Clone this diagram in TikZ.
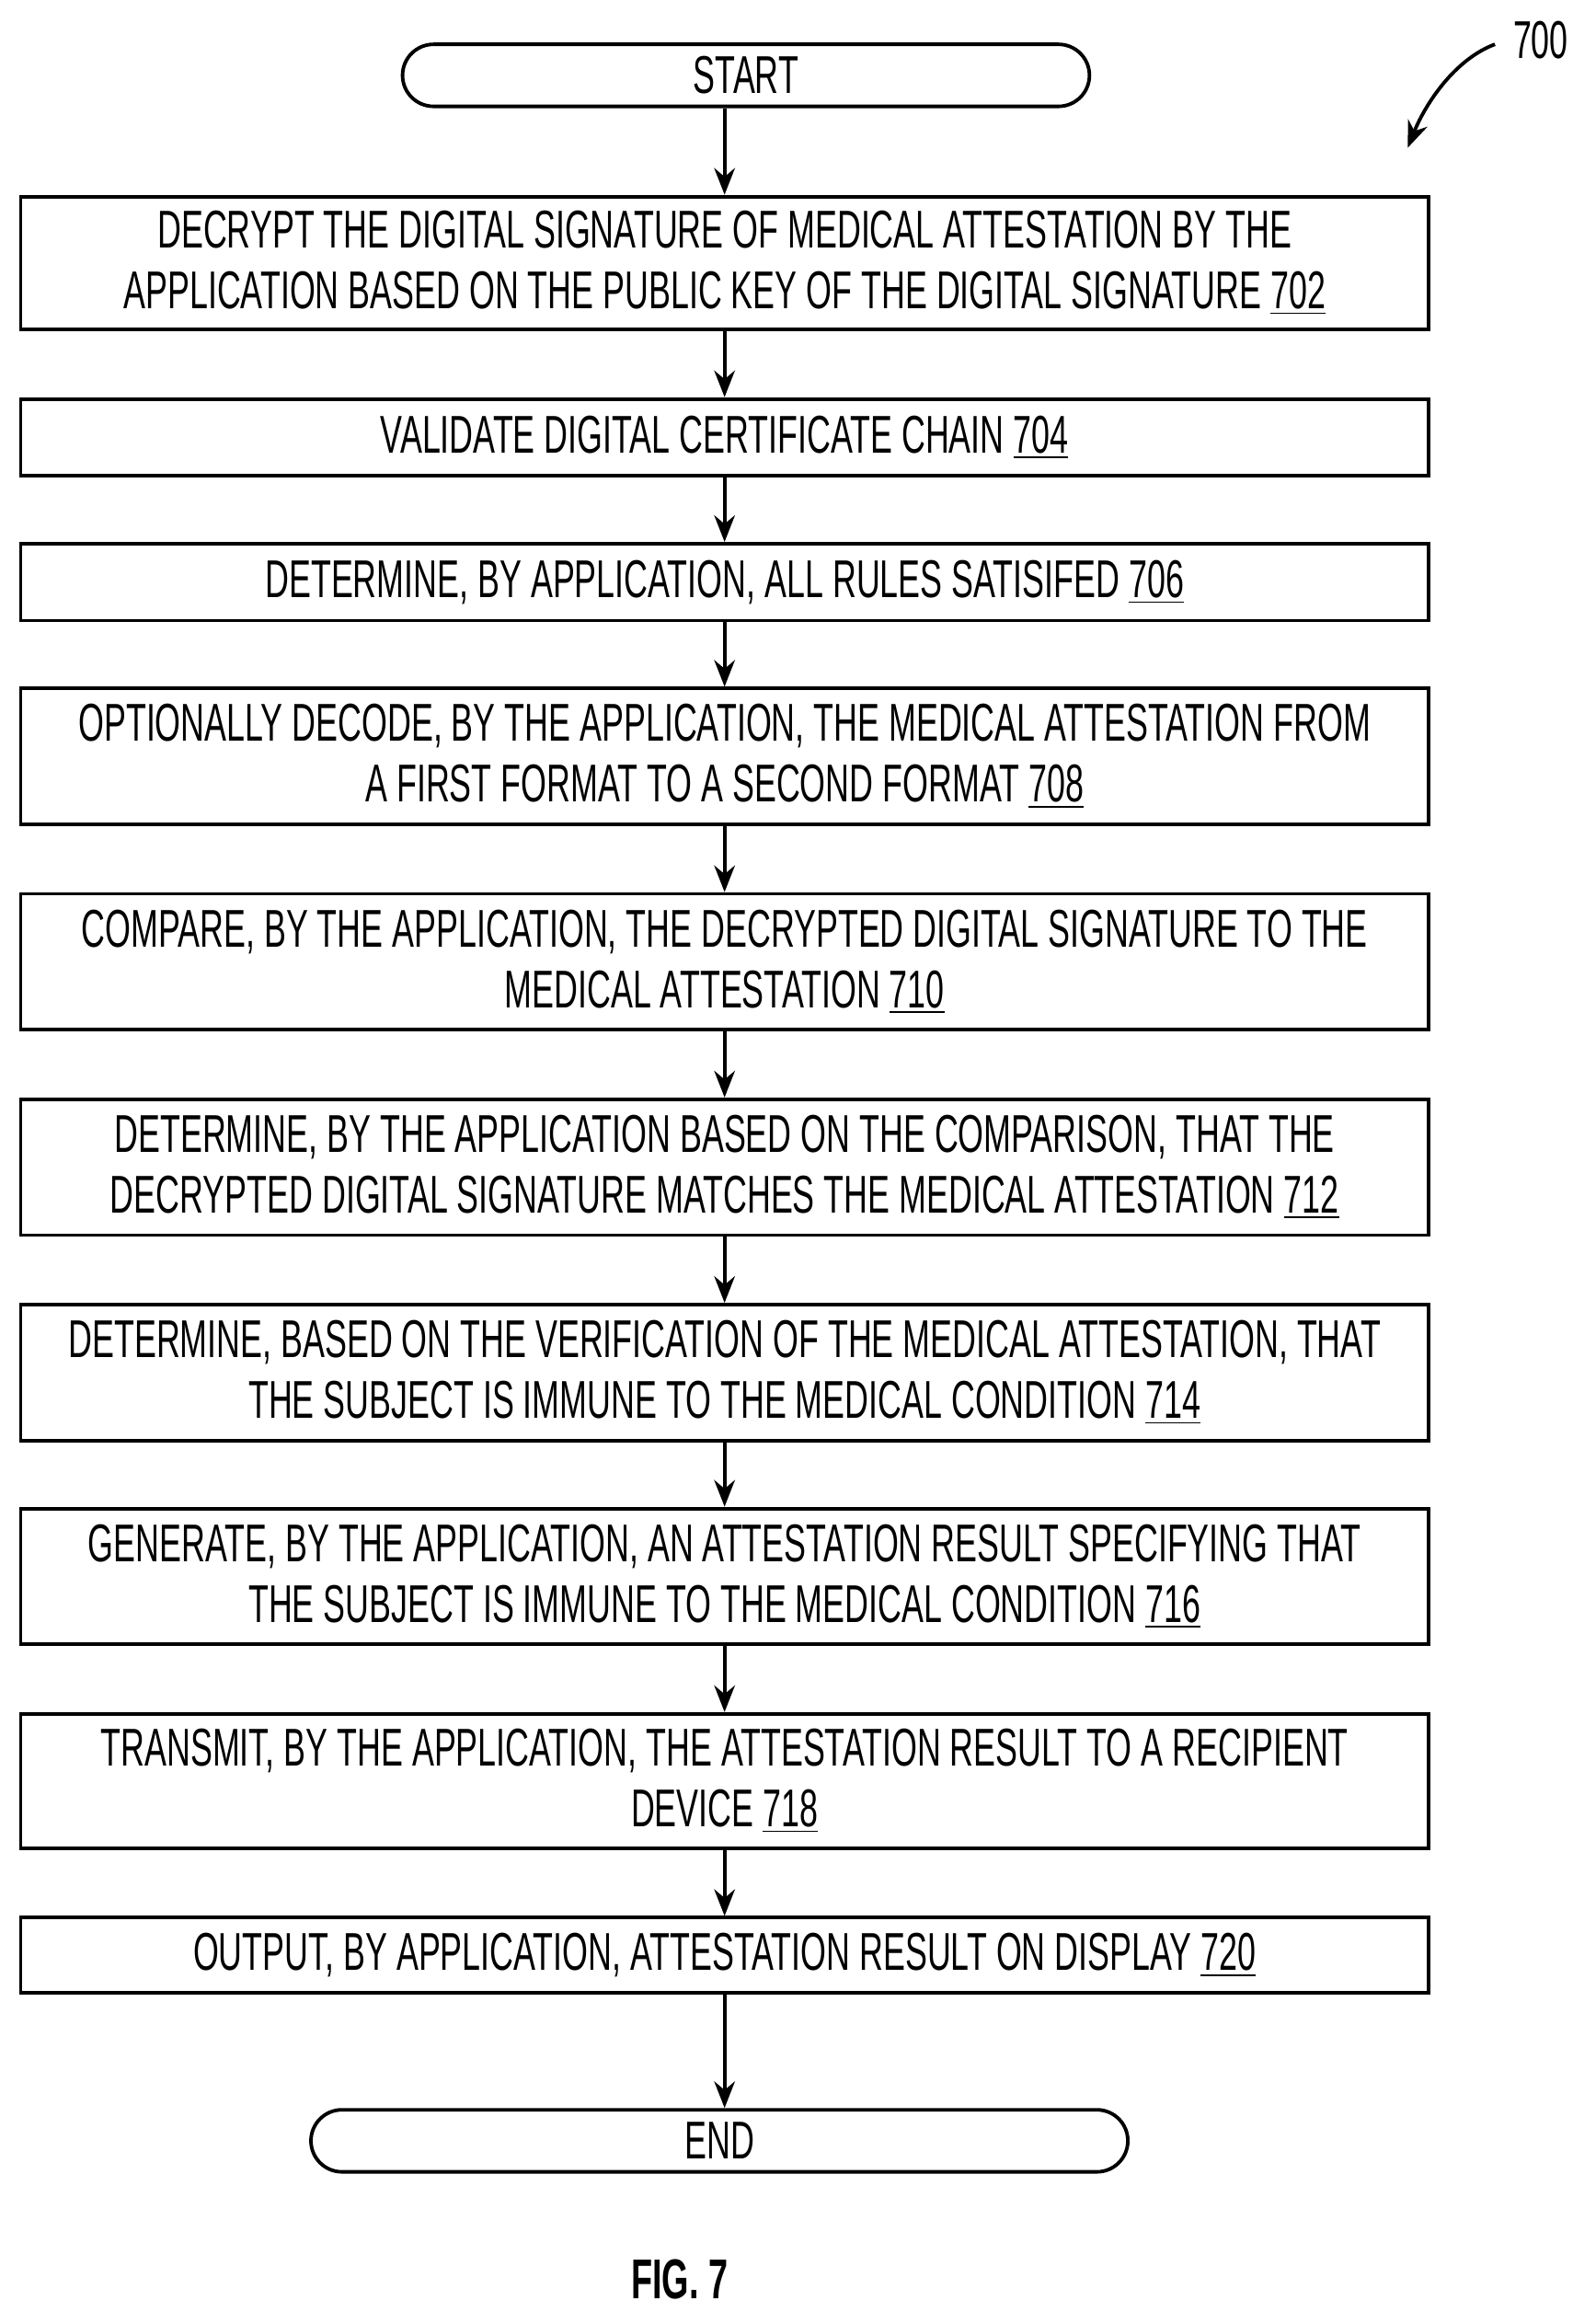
\documentclass[tikz,border=0pt]{standalone}
\usepackage{fontspec}
\setmainfont{Liberation Sans}[FakeStretch=0.62]
\usetikzlibrary{arrows.meta}
\begin{document}
\begin{tikzpicture}[x=0.5pt,y=-0.5pt,
  box/.style={draw,line width=1.2pt,minimum width=476.5pt,align=center,inner sep=0pt,font=\fontsize{18}{20.5}\selectfont},
  term/.style={draw,line width=1.2pt,rounded corners=10.5pt,inner sep=0pt,font=\fontsize{18}{20}\selectfont},
  arr/.style={line width=1.2pt,-{Stealth[length=9pt,width=7pt]}}]
\useasboundingbox (0,0) rectangle (1080,1573);
\node[term,minimum width=232.5pt,minimum height=21pt] (start) at (505,51) {START};
\node[box,minimum height=45pt] (b702) at (490.5,178) {DECRYPT THE DIGITAL SIGNATURE OF MEDICAL ATTESTATION BY THE\\APPLICATION BASED ON THE PUBLIC KEY OF THE DIGITAL SIGNATURE \underline{702}};
\node[box,minimum height=26pt] (b704) at (490.5,296) {VALIDATE DIGITAL CERTIFICATE CHAIN \underline{704}};
\node[box,minimum height=26pt] (b706) at (490.5,394) {DETERMINE, BY APPLICATION, ALL RULES SATISIFED \underline{706}};
\node[box,minimum height=46pt] (b708) at (490.5,512) {OPTIONALLY DECODE, BY THE APPLICATION, THE MEDICAL ATTESTATION FROM\\A FIRST FORMAT TO A SECOND FORMAT \underline{708}};
\node[box,minimum height=46pt] (b710) at (490.5,651) {COMPARE, BY THE APPLICATION, THE DECRYPTED DIGITAL SIGNATURE TO THE\\MEDICAL ATTESTATION \underline{710}};
\node[box,minimum height=46pt] (b712) at (490.5,790) {DETERMINE, BY THE APPLICATION BASED ON THE COMPARISON, THAT THE\\DECRYPTED DIGITAL SIGNATURE MATCHES THE MEDICAL ATTESTATION \underline{712}};
\node[box,minimum height=46pt] (b714) at (490.5,929) {DETERMINE, BASED ON THE VERIFICATION OF THE MEDICAL ATTESTATION, THAT\\THE SUBJECT IS IMMUNE TO THE MEDICAL CONDITION \underline{714}};
\node[box,minimum height=46pt] (b716) at (490.5,1067) {GENERATE, BY THE APPLICATION, AN ATTESTATION RESULT SPECIFYING THAT\\THE SUBJECT IS IMMUNE TO THE MEDICAL CONDITION \underline{716}};
\node[box,minimum height=45.5pt] (b718) at (490.5,1205.5) {TRANSMIT, BY THE APPLICATION, THE ATTESTATION RESULT TO A RECIPIENT\\DEVICE \underline{718}};
\node[box,minimum height=25.5pt] (b720) at (490.5,1323.5) {OUTPUT, BY APPLICATION, ATTESTATION RESULT ON DISPLAY \underline{720}};
\node[term,minimum width=276.5pt,minimum height=21pt] (end) at (487,1449) {END};
\node[font=\fontsize{19}{20}\selectfont\bfseries] (fig) at (460,1543) {FIG. 7};
\node[font=\fontsize{18}{20}\selectfont] (lbl) at (1043,27) {700};
\draw[arr] (b702.north |- start.south) -- (b702);
\foreach \a/\b in {702/704,704/706,706/708,708/710,710/712,712/714,714/716,716/718,718/720}
  \draw[arr] (b\a) -- (b\b);
\draw[arr] (b720.south) -- (end.north -| b720.south);
\draw[arr] (1012,30) .. controls (985,40) and (965,70) .. (953,100);
\end{tikzpicture}
\end{document}
